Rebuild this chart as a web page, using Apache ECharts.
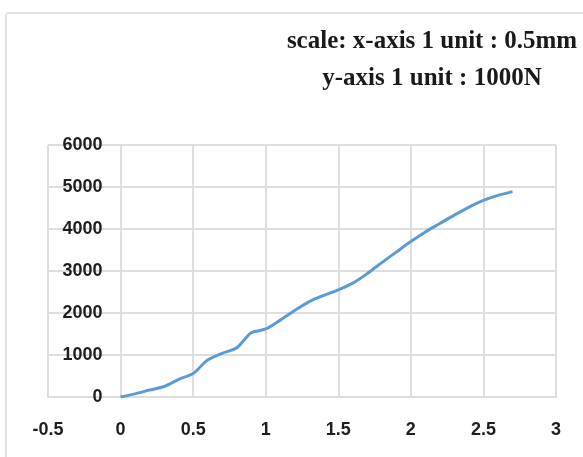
<!DOCTYPE html>
<html>
<head>
<meta charset="utf-8">
<script src="https://cdn.jsdelivr.net/npm/echarts@6/dist/echarts.min.js"></script>
<style>
  html, body { margin: 0; padding: 0; background: #ffffff; }
  #chart { width: 583px; height: 457px; }
</style>
</head>
<body>
<div id="chart"></div>
<script>
// Load-displacement curve
const displacement = [0, 0.1, 0.2, 0.3, 0.4, 0.5, 0.55, 0.6, 0.7, 0.8, 0.85, 0.9, 1.0, 1.1, 1.2, 1.3, 1.4, 1.5, 1.6, 1.7, 1.8, 1.9, 2.0, 2.1, 2.2, 2.3, 2.4, 2.5, 2.6, 2.7];
const load = [0, 75, 165, 250, 420, 560, 720, 880, 1040, 1170, 1350, 1530, 1620, 1830, 2060, 2270, 2420, 2550, 2710, 2940, 3200, 3450, 3700, 3930, 4130, 4330, 4520, 4680, 4800, 4890];

const xTicks = [-0.5, 0, 0.5, 1, 1.5, 2, 2.5, 3];
const xTickLabels = ['-0.5', '0', '0.5', '1', '1.5', '2', '2.5', '3'];
const yTicks = [0, 1000, 2000, 3000, 4000, 5000, 6000];

const titleLines = ['scale: x-axis 1 unit : 0.5mm', 'y-axis 1 unit : 1000N'];

const points = displacement.map((x, i) => [x, load[i]]);

const chart = echarts.init(document.getElementById('chart'), null, { renderer: 'canvas' });

const gridColor = '#dedede';
const labelFont = {
  fontFamily: 'Liberation Sans',
  fontWeight: 'bold',
  fontSize: 18,
  color: '#1e1e1e'
};

const gridLeft = 48;
const gridRight = 27;
const chartWidth = 583;
// the y-axis sits on x = 0, so shift it in from the grid's left edge
const yAxisShift = (0 - xTicks[0]) / (xTicks[xTicks.length - 1] - xTicks[0]) * (chartWidth - gridLeft - gridRight);

chart.setOption({
  animation: false,
  backgroundColor: '#ffffff',
  title: {
    text: titleLines.join('\n'),
    left: 427,
    top: 18,
    textAlign: 'center',
    textStyle: {
      fontFamily: 'Liberation Serif',
      fontWeight: 'bold',
      fontSize: 25,
      lineHeight: 37,
      color: '#1a1a1a'
    }
  },
  graphic: [{
    type: 'rect',
    shape: { x: 6, y: 13, width: 620, height: 470, r: 3 },
    style: { fill: 'none', stroke: '#e4e4e4', lineWidth: 2 },
    silent: true,
    z: -1
  }],
  grid: { left: gridLeft, right: gridRight, top: 145, bottom: 60, outerBoundsMode: 'none', containLabel: false },
  xAxis: {
    type: 'value',
    min: xTicks[0],
    max: xTicks[xTicks.length - 1],
    interval: 0.5,
    axisLine: { show: true, onZero: false, lineStyle: { color: gridColor, width: 2 } },
    axisTick: { show: false },
    splitLine: { show: true, lineStyle: { color: gridColor, width: 2 } },
    axisLabel: Object.assign({
      margin: 24,
      formatter: v => {
        const i = xTicks.findIndex(t => Math.abs(t - v) < 1e-9);
        return i >= 0 ? xTickLabels[i] : '';
      }
    }, labelFont)
  },
  yAxis: {
    type: 'value',
    min: yTicks[0],
    max: yTicks[yTicks.length - 1],
    interval: 1000,
    offset: -yAxisShift,
    axisLine: { show: true, onZero: false, lineStyle: { color: gridColor, width: 2 } },
    axisTick: { show: false },
    splitLine: { show: true, lineStyle: { color: gridColor, width: 2 } },
    axisLabel: Object.assign({ margin: 18, formatter: v => String(v) }, labelFont)
  },
  series: [{
    type: 'line',
    data: points,
    smooth: 0.3,
    symbol: 'none',
    lineStyle: { color: '#5b9bd5', width: 3 },
    z: 5
  }]
});
</script>
</body>
</html>
